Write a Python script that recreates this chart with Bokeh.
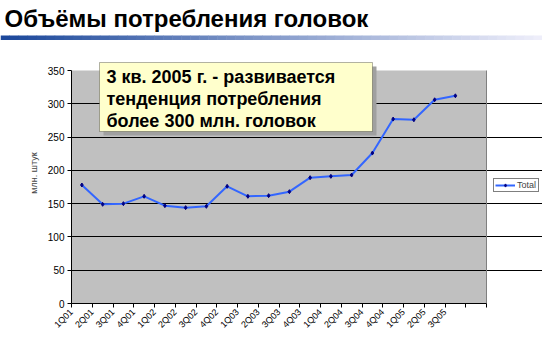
from math import pi
from bokeh.plotting import figure
from bokeh.layouts import column, row
from bokeh.models import (Range1d, FixedTicker, Label, BoxAnnotation, Legend,
                          LegendItem, ColumnDataSource)
from bokeh.embed import file_html
from bokeh.resources import INLINE

# ---- data ----
title_text = "Объёмы потребления головок"
note_text = "3 кв. 2005 г. - развивается\nтенденция потребления\nболее 300 млн. головок"
y_label = "млн. штук"
series_name = "Total"
categories = ["1Q01", "2Q01", "3Q01", "4Q01", "1Q02", "2Q02", "3Q02", "4Q02",
              "1Q03", "2Q03", "3Q03", "4Q03", "1Q04", "2Q04", "3Q04", "4Q04",
              "1Q05", "2Q05", "3Q05"]
total = [178, 149, 150, 161, 147, 144, 146, 176, 161, 162, 168, 189, 191, 193,
         226, 277, 276, 306, 312]
y_ticks = [0, 50, 100, 150, 200, 250, 300, 350]

FONT = "Liberation Sans"
n_slots = len(categories) + 1  # one empty slot at the end

W, H = 542, 342
HEAD = 42                       # header strip height (title + rule)
# plot-area geometry on the canvas
AL, AR, AT, AB = 71, 486, 70, 303

# ---------------- header: title and gradient rule ----------------
head = figure(width=W, height=HEAD, output_backend="svg", toolbar_location=None,
              x_range=Range1d(0, W), y_range=Range1d(HEAD, 0),
              x_axis_location=None, y_axis_location=None,
              min_border=0, min_border_left=0, min_border_right=0,
              min_border_top=0, min_border_bottom=0)
head.outline_line_color = None
head.grid.visible = False
head.background_fill_color = "white"
head.border_fill_color = "white"
head.add_layout(Label(x=4, y=4, text=title_text, text_font=FONT, text_font_size="24px",
                      text_font_style="bold", text_color="black", text_baseline="top"))
c0 = (28, 72, 155)
c1 = (238, 238, 250)
nstrip = 60
sw = W / nstrip
lefts, rights, cols = [], [], []
for i in range(nstrip):
    t = i / (nstrip - 1)
    cols.append("#%02x%02x%02x" % tuple(int(round(a + (b - a) * t)) for a, b in zip(c0, c1)))
    lefts.append(i * sw)
    rights.append((i + 1) * sw + 0.5)
head.quad(left=lefts, right=rights, top=35, bottom=39.5, fill_color=cols, line_color=None)

# ---------------- main chart ----------------
MH = H - HEAD
px_per_unit = (AB - AT) / (y_ticks[-1] - y_ticks[0])
y_end = y_ticks[-1] + (AT - HEAD) / px_per_unit
px_per_slot = (AR - AL) / n_slots
x_end = (W - AL) / px_per_slot

p = figure(width=W, height=MH, output_backend="svg", toolbar_location=None,
           x_range=Range1d(0, x_end), y_range=Range1d(y_ticks[0], y_end),
           min_border_left=AL, min_border_right=0,
           min_border_top=0, min_border_bottom=H - AB)
p.background_fill_color = "white"
p.border_fill_color = "white"
p.outline_line_color = None

# plot area fill
p.add_layout(BoxAnnotation(left=0, right=n_slots, bottom=y_ticks[0], top=y_ticks[-1],
                           fill_color="#C0C0C0", fill_alpha=1, line_color=None,
                           level="image"))
p.segment(x0=[n_slots], y0=[y_ticks[0]], x1=[n_slots], y1=[y_ticks[-1]],
          line_color="#808080", line_width=1)

# axes
p.xaxis.ticker = FixedTicker(ticks=list(range(n_slots + 1)))
p.xaxis.major_label_overrides = {i: (categories[i] if i < len(categories) else "")
                                 for i in range(n_slots + 1)}
p.xaxis.major_label_orientation = pi / 4
p.xaxis.bounds = (0, n_slots)
p.yaxis.ticker = FixedTicker(ticks=y_ticks)
p.yaxis.bounds = (y_ticks[0], y_ticks[-1])
for ax in (p.xaxis, p.yaxis):
    ax.axis_line_color = "black"
    ax.major_tick_line_color = "black"
    ax.major_tick_out = 4
    ax.major_tick_in = 0
    ax.minor_tick_line_color = None
    ax.major_label_text_font = FONT
    ax.major_label_text_color = "black"
    ax.major_label_standoff = 3
p.xaxis.major_label_text_font_size = "9px"
p.yaxis.major_label_text_font_size = "10px"
p.yaxis.axis_label = y_label
p.yaxis.axis_label_text_font = FONT
p.yaxis.axis_label_text_font_size = "9px"
p.yaxis.axis_label_text_font_style = "normal"
p.yaxis.axis_label_standoff = 6

p.xgrid.grid_line_color = None
p.ygrid.ticker = FixedTicker(ticks=y_ticks[1:-1])
p.ygrid.bounds = (0, n_slots)
p.ygrid.grid_line_color = "black"
p.ygrid.grid_line_width = 1

# series
src = ColumnDataSource(dict(x=[i + 0.5 for i in range(len(categories))], y=total))
ln = p.line("x", "y", source=src, line_color="#3366FF", line_width=2)
mk = p.scatter("x", "y", source=src, marker="diamond", size=4,
               fill_color="#000080", line_color="#000080")

legend = Legend(items=[LegendItem(label=series_name, renderers=[ln, mk])],
                location=(493 - AL, AB - 192), border_line_color="black",
                background_fill_color="white", background_fill_alpha=1,
                label_text_font=FONT, label_text_font_size="9px",
                glyph_width=20, glyph_height=8, padding=1, spacing=0,
                label_standoff=2, margin=0, label_height=8)
p.add_layout(legend)

# note box with shadow (screen units relative to the frame's bottom-left)
bx0, by0, bx1, by1 = 99, 62, 372, 131
p.add_layout(BoxAnnotation(left=bx0 + 4 - AL, right=bx1 + 4 - AL, top=AB - (by0 + 4),
                           bottom=AB - (by1 + 4), left_units="screen", right_units="screen",
                           top_units="screen", bottom_units="screen",
                           fill_color="#A0A0A0", fill_alpha=1, line_color=None))
p.add_layout(BoxAnnotation(left=bx0 - AL, right=bx1 - AL, top=AB - by0, bottom=AB - by1,
                           left_units="screen", right_units="screen",
                           top_units="screen", bottom_units="screen",
                           fill_color="#FFFFCC", fill_alpha=1, line_color="black",
                           line_width=1))
p.add_layout(Label(x=106 - AL, y=AB - 66, x_units="screen", y_units="screen",
                   text=note_text, text_font=FONT, text_font_size="18px",
                   text_font_style="bold", text_color="black", text_baseline="top",
                   text_line_height=1.1))

layout = column(row(head), row(p), spacing=0)
open("out.html", "w").write(file_html(layout, INLINE))
